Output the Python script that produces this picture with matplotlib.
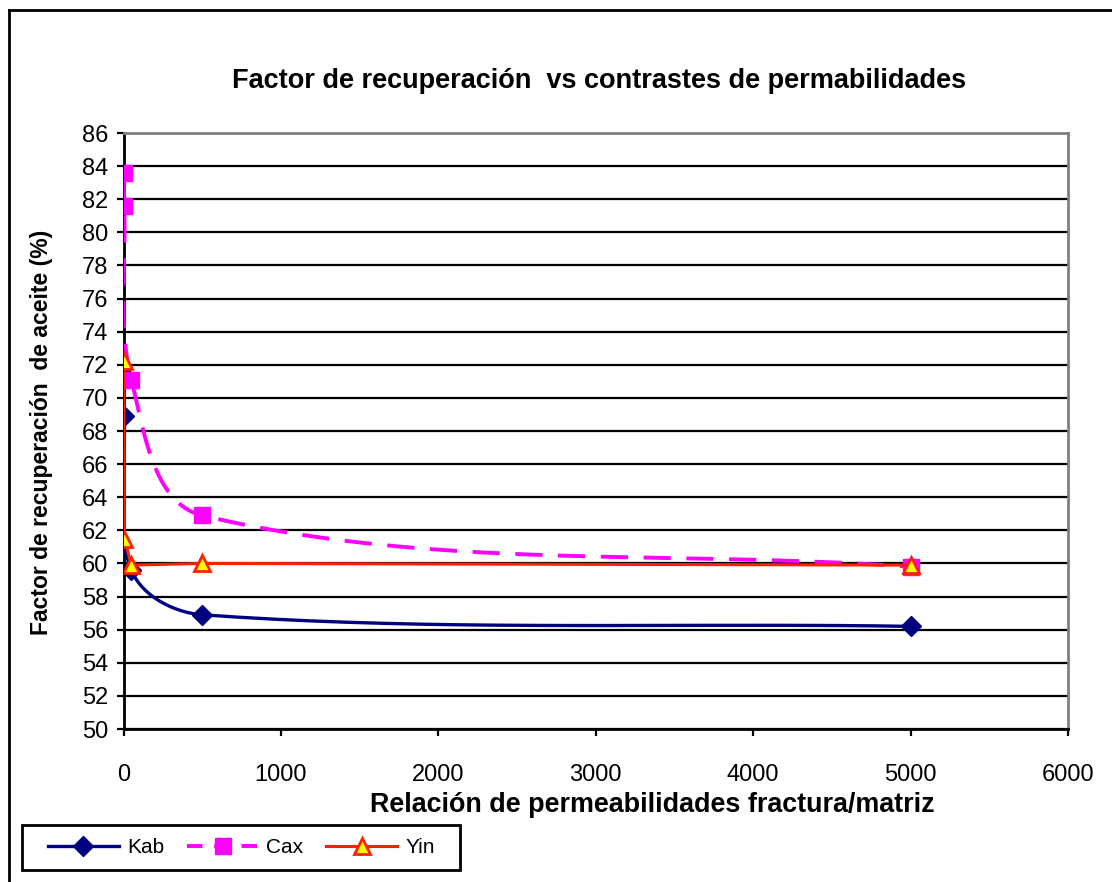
import numpy as np
import matplotlib
matplotlib.use("Agg")
import matplotlib.pyplot as plt
from matplotlib.lines import Line2D
from matplotlib.patches import Rectangle

plt.rcParams['font.family'] = ['Liberation Sans', 'DejaVu Sans']

# relacion kf/km y factor de recuperacion por autor
relacion = [1, 5, 50, 500, 5000]
kab = [71.4, 68.9, 59.6, 56.9, 56.2]
cax = [83.6, 81.6, 71.1, 62.9, 59.8]
yin = [72.2, 61.5, 59.9, 60.0, 59.9]

W, H = 1112, 882
x0, x1, y0, y1 = 123.5, 1068, 729, 133

fig = plt.figure(figsize=(W / 100, H / 100), dpi=100)
ax = fig.add_axes([x0 / W, 1 - y0 / H, (x1 - x0) / W, (y0 - y1) / H])
ax.set_xlim(0, 6000)
ax.set_ylim(50, 86)

px_x = (x1 - x0) / 6000.0
px_y = (y0 - y1) / 36.0


def suavizar(xs, ys, n=40):
    # curva suave tipo excel: bezier con tangentes de los vecinos, en pixeles
    p = np.column_stack([np.array(xs) * px_x, np.array(ys) * px_y])
    m = len(p)
    tang = []
    for i in range(m):
        a = p[max(i - 1, 0)]
        b = p[min(i + 1, m - 1)]
        d = b - a
        tang.append(d / np.hypot(*d))
    out = [p[0]]
    t = np.linspace(0, 1, n)[1:, None]
    for i in range(m - 1):
        L = np.hypot(*(p[i + 1] - p[i])) / 3.0
        c1 = p[i] + tang[i] * L
        c2 = p[i + 1] - tang[i + 1] * L
        seg = ((1 - t) ** 3) * p[i] + 3 * ((1 - t) ** 2) * t * c1 + 3 * (1 - t) * t ** 2 * c2 + t ** 3 * p[i + 1]
        out.extend(seg)
    out = np.array(out)
    return out[:, 0] / px_x, out[:, 1] / px_y


ax.yaxis.grid(True, color='black', linewidth=1.6)
ax.set_axisbelow(True)

sx, sy = suavizar(relacion, kab)
ax.plot(sx, sy, color='#000080', linewidth=2.4, solid_capstyle='round', zorder=3)
ax.plot(relacion, kab, linestyle='none', marker='D', markersize=10,
        color='#000080', zorder=4)

sx, sy = suavizar(relacion, cax)
ax.plot(sx, sy, color='#FF00FF', linewidth=2.8, dashes=(7, 4), zorder=3)
ax.plot(relacion, cax, linestyle='none', marker='s', markersize=12,
        color='#FF00FF', zorder=4)

ax.plot(relacion, yin, color='#FF2000', linewidth=2.2, marker='^', markersize=11,
        markerfacecolor='#FFFF00', markeredgecolor='#FF2000', markeredgewidth=2,
        zorder=5)

ax.set_xticks(range(0, 6001, 1000))
ax.set_yticks(range(50, 87, 2))
ax.tick_params(axis='both', labelsize=17, direction='out', length=5, width=1.6,
               color='black', pad=6)
ax.tick_params(axis='x', pad=20)

for s in ['left', 'bottom']:
    ax.spines[s].set_color('black')
    ax.spines[s].set_linewidth(2)
for s in ['top', 'right']:
    ax.spines[s].set_color('#808080')
    ax.spines[s].set_linewidth(2)

fig.text(599 / W, 1 - 81 / H,
         'Factor de recuperación  vs contrastes de permabilidades',
         ha='center', va='center', fontsize=19.5, fontweight='bold')
fig.text(652 / W, 1 - 805 / H, 'Relación de permeabilidades fractura/matriz',
         ha='center', va='center', fontsize=19.4, fontweight='bold')
fig.text(42 / W, 1 - 432 / H, 'Factor de recuperación  de aceite (%)',
         ha='center', va='center', rotation=90, fontsize=16.5, fontweight='bold')

# marco exterior del grafico
fig.add_artist(Line2D([9 / W, 9 / W], [0, 1 - 10 / H], color='black', linewidth=2))
fig.add_artist(Line2D([9 / W, 1], [1 - 10 / H, 1 - 10 / H], color='black', linewidth=2))

# leyenda: marco propio y entradas sin marco
fig.add_artist(Rectangle((22 / W, 1 - 870 / H), (460 - 22) / W, 45 / H,
                         transform=fig.transFigure, fill=False,
                         edgecolor='black', linewidth=2))
handles = [
    Line2D([], [], color='#000080', linewidth=2.4, marker='D', markersize=10),
    Line2D([], [], color='#FF00FF', linewidth=2.8, dashes=(4, 3), marker='s', markersize=12),
    Line2D([], [], color='#FF2000', linewidth=2.2, marker='^', markersize=11,
           markerfacecolor='#FFFF00', markeredgecolor='#FF2000', markeredgewidth=2),
]
fig.legend(handles, ['Kab', 'Cax', 'Yin'], ncol=3, loc='center left',
           bbox_to_anchor=(48 / W, 1 - 847.5 / H), fontsize=15,
           handlelength=3.4, handletextpad=0.4, columnspacing=1.1,
           borderpad=0, borderaxespad=0, frameon=False)

fig.savefig('out.png', dpi=100)
